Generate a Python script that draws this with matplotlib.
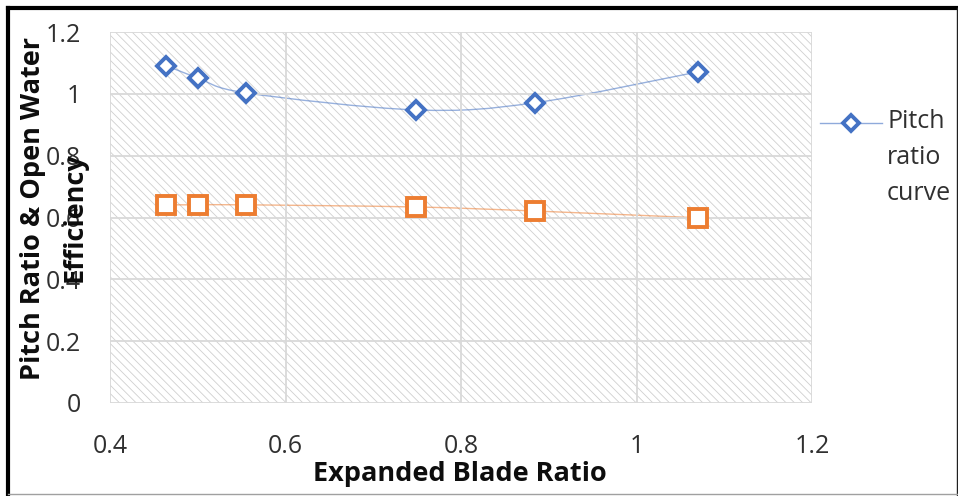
import matplotlib
matplotlib.use("Agg")
import matplotlib.pyplot as plt
import numpy as np
from matplotlib.path import Path
from matplotlib.patches import PathPatch, Rectangle
from matplotlib.lines import Line2D
from matplotlib.colors import to_rgba

plt.rcParams['font.family'] = ['Open Sans', 'DejaVu Sans']
plt.rcParams['hatch.linewidth'] = 0.6

# Data
blade_ratio = [0.464, 0.500, 0.555, 0.749, 0.884, 1.070]
pitch_ratio = [1.091, 1.052, 1.003, 0.948, 0.971, 1.071]
efficiency = [0.641, 0.641, 0.641, 0.634, 0.621, 0.599]

x_ticks = [0.4, 0.6, 0.8, 1.0, 1.2]
x_tick_labels = ["0.4", "0.6", "0.8", "1", "1.2"]
y_ticks = [0, 0.2, 0.4, 0.6, 0.8, 1.0, 1.2]
y_tick_labels = ["0", "0.2", "0.4", "0.6", "0.8", "1", "1.2"]
legend_lines = ["Pitch", "ratio", "curve"]

BLUE = '#4472C4'
ORANGE = '#ED7D31'
FS = 18
FS_TITLE = 19.5


def smooth_path(xs, ys, tension=1/6):
    """Catmull-Rom style Bezier path through the given points."""
    pts = np.column_stack([np.asarray(xs, float), np.asarray(ys, float)])
    verts = [pts[0]]
    codes = [Path.MOVETO]
    n = len(pts)
    for i in range(n - 1):
        p0 = pts[i - 1] if i > 0 else pts[i]
        p1 = pts[i]
        p2 = pts[i + 1]
        p3 = pts[i + 2] if i + 2 < n else pts[i + 1]
        verts += [p1 + (p2 - p0) * tension, p2 - (p3 - p1) * tension, p2]
        codes += [Path.CURVE4] * 3
    return Path(verts, codes)


W, H = 958, 496
fig = plt.figure(figsize=(W / 100, H / 100), dpi=100)
ax = fig.add_axes([110 / W, 1 - 403 / H, 702 / W, 371 / H])


def fx(px):
    return px / W


def fy(py):
    return 1 - py / H


# hatched plot area
ax.add_patch(Rectangle((0, 0), 1, 1, transform=ax.transAxes, facecolor='white',
                       edgecolor='#d0d0d0', hatch='\\\\\\\\', linewidth=0, zorder=0))

ax.set_xlim(0.4, 1.2)
ax.set_ylim(0, 1.2)
ax.set_xticks(x_ticks)
ax.set_xticklabels(x_tick_labels)
ax.set_yticks(y_ticks)
ax.set_yticklabels(y_tick_labels)
ax.grid(True, color='#d9d9d9', linewidth=1.3, zorder=1)
ax.set_axisbelow(False)
for s in ax.spines.values():
    s.set_visible(False)
ax.tick_params(length=0, labelsize=FS, labelcolor='#303030')
ax.tick_params(axis='x', pad=22)
ax.tick_params(axis='y', pad=21)

# smoothed connecting lines
ax.add_patch(PathPatch(smooth_path(blade_ratio, pitch_ratio), facecolor='none',
                       edgecolor=to_rgba(BLUE, 0.55), linewidth=1.0, zorder=2))
ax.add_patch(PathPatch(smooth_path(blade_ratio, efficiency), facecolor='none',
                       edgecolor=to_rgba(ORANGE, 0.55), linewidth=1.0, zorder=2))

ax.plot(blade_ratio, pitch_ratio, linestyle='none', marker='D', markersize=9.5,
        markerfacecolor='white', markeredgecolor=BLUE, markeredgewidth=2.8, zorder=3)
ax.plot(blade_ratio, efficiency, linestyle='none', marker='s', markersize=13.5,
        markerfacecolor='white', markeredgecolor=ORANGE, markeredgewidth=2.8, zorder=3)

fig.text(fx(460), fy(474), 'Expanded Blade Ratio', fontsize=FS_TITLE,
         fontweight='bold', ha='center', va='center', color='#0d0d0d')

# two-line y axis title
fig.text(fx(33), fy(208), 'Pitch Ratio & Open Water', rotation=90,
         fontsize=FS_TITLE, fontweight='bold', ha='center', va='center', color='#0d0d0d')
fig.text(fx(75), fy(217), 'Efficiency', rotation=90,
         fontsize=FS_TITLE, fontweight='bold', ha='center', va='center', color='#0d0d0d')

# legend entry (series sample + wrapped label)
fig.add_artist(Line2D([fx(820), fx(882)], [fy(123), fy(123)], transform=fig.transFigure,
                      color=to_rgba(BLUE, 0.6), linewidth=1.0))
fig.add_artist(Line2D([fx(851)], [fy(123)], transform=fig.transFigure,
                      linestyle='none', marker='D', markersize=8.5,
                      markerfacecolor='white', markeredgecolor=BLUE, markeredgewidth=2.8))
for i, word in enumerate(legend_lines):
    fig.text(fx(887), fy(122 + 36 * i), word, fontsize=FS, ha='left', va='center',
             color='#303030')

# outer frame
fig.add_artist(Line2D([fx(8), fx(8)], [0, fy(8)], transform=fig.transFigure,
                      color='black', linewidth=3))
fig.add_artist(Line2D([fx(8), 1], [fy(8), fy(8)], transform=fig.transFigure,
                      color='black', linewidth=3))
fig.add_artist(Line2D([fx(956.5), fx(956.5)], [0, fy(8)],
                      transform=fig.transFigure, color='#202020', linewidth=1))
fig.add_artist(Line2D([fx(8), 1], [fy(494), fy(494)], transform=fig.transFigure,
                      color='#a0a0a0', linewidth=1))

fig.savefig('out.png', dpi=100)
